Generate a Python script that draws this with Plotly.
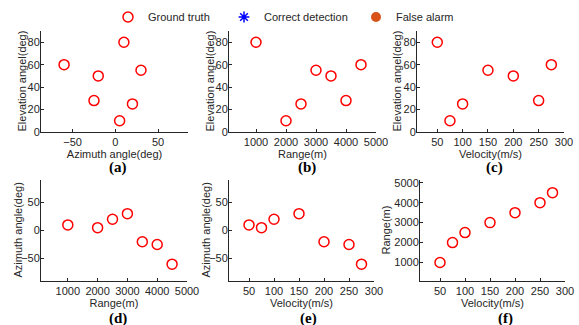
import plotly.graph_objects as go

# ---- data (7 targets) ----
azimuth = [10, 5, 20, 30, -20, -25, -60]          # deg
elevation = [80, 10, 25, 55, 50, 28, 60]          # deg
range_m = [1000, 2000, 2500, 3000, 3500, 4000, 4500]  # m
velocity = [50, 75, 100, 150, 200, 250, 275]      # m/s

panel_labels = ["(a)", "(b)", "(c)", "(d)", "(e)", "(f)"]
xy_titles = [
    ("Azimuth angle(deg)", "Elevation angel(deg)"),
    ("Range(m)", "Elevation angel(deg)"),
    ("Velocity(m/s)", "Elevation angel(deg)"),
    ("Range(m)", "Azimuth angle(deg)"),
    ("Velocity(m/s)", "Azimuth angle(deg)"),
    ("Velocity(m/s)", "Range(m)"),
]
xy_data = [
    (azimuth, elevation),
    (range_m, elevation),
    (velocity, elevation),
    (range_m, azimuth),
    (velocity, azimuth),
    (velocity, range_m),
]
x_ranges = [[-87, 85], [100, 5000], [10, 300], [100, 5000], [10, 300], [10, 300]]
y_ranges = [[0, 90], [0, 90], [0, 90], [-90, 90], [-90, 90], [75, 5135]]
x_ticks = [[-50, 0, 50], [1000, 2000, 3000, 4000, 5000], [50, 100, 150, 200, 250, 300],
           [1000, 2000, 3000, 4000, 5000], [50, 100, 150, 200, 250, 300], [50, 100, 150, 200, 250, 300]]
y_ticks = [[0, 20, 40, 60, 80], [0, 20, 40, 60, 80], [0, 20, 40, 60, 80],
           [-50, 0, 50], [-50, 0, 50], [1000, 2000, 3000, 4000, 5000]]

W, H = 579, 325
# axis boxes in pixels: (left, right, top, bottom)
boxes = [
    (41, 188, 31, 132), (229, 376, 31, 132), (417, 564, 31, 132),
    (41, 187, 180, 281), (229, 374, 180, 281), (420, 565, 180, 281),
]
label_pos = [(118, 167), (307, 167), (494, 167), (118, 318), (308, 318), (505, 318)]
ytitle_x = [22, 210, 397, 17, 205, 385]

AX = "#262626"
fig = go.Figure()
layout = dict(
    width=W, height=H, margin=dict(l=0, r=0, t=0, b=0),
    paper_bgcolor="white", plot_bgcolor="white",
    font=dict(family="Liberation Sans, Arial, sans-serif", size=11, color=AX),
    annotations=[],
)

for i in range(6):
    xs, ys = xy_data[i]
    xa = "x" if i == 0 else f"x{i+1}"
    ya = "y" if i == 0 else f"y{i+1}"
    fig.add_trace(go.Scatter(
        x=xs, y=ys, xaxis=xa, yaxis=ya, mode="markers",
        name="Ground truth", showlegend=(i == 0), legend="legend",
        marker=dict(symbol="circle-open", size=10, color="red", line=dict(width=1.5, color="red")),
    ))
    l, r, t, b = boxes[i]
    common = dict(showline=True, linecolor=AX, linewidth=1, ticks="inside", ticklen=3,
                  tickcolor=AX, showgrid=False, zeroline=False, mirror=False,
                  tickfont=dict(size=11, color=AX), automargin=False)
    layout["xaxis" if i == 0 else f"xaxis{i+1}"] = dict(
        domain=[l / W, r / W], anchor=ya, range=x_ranges[i], tickvals=x_ticks[i],
        title=dict(text=xy_titles[i][0], standoff=0, font=dict(size=11, color=AX)), **common)
    layout["yaxis" if i == 0 else f"yaxis{i+1}"] = dict(
        domain=[1 - b / H, 1 - t / H], anchor=xa, range=y_ranges[i], tickvals=y_ticks[i],
        ticklabelstandoff=-2, **common)
    # y-axis title
    layout["annotations"].append(dict(
        text=xy_titles[i][1], textangle=-90, x=ytitle_x[i] / W, y=1 - (t + b) / 2 / H,
        xref="paper", yref="paper", showarrow=False, xanchor="center", yanchor="middle",
        font=dict(size=11, color=AX)))
    lx, ly = label_pos[i]
    layout["annotations"].append(dict(
        text=f"<b>{panel_labels[i]}</b>", x=lx / W, y=1 - ly / H, xref="paper", yref="paper",
        showarrow=False, xanchor="center", yanchor="middle",
        font=dict(family="Liberation Serif, Times New Roman, serif", size=15, color="black")))

# legend-only traces
fig.add_trace(go.Scatter(x=[None], y=[None], mode="markers", name="Correct detection",
                         legend="legend2",
                         marker=dict(symbol="asterisk-open", size=9, color="blue",
                                     line=dict(width=1.5, color="blue"))))
fig.add_trace(go.Scatter(x=[None], y=[None], mode="markers", name="False alarm",
                         legend="legend3",
                         marker=dict(symbol="circle", size=10, color="#D95319")))

leg_common = dict(orientation="h", yanchor="middle", y=1 - 17 / H, xanchor="left",
                  bgcolor="rgba(0,0,0,0)", font=dict(size=11, color=AX), itemwidth=30)
layout["legend"] = dict(x=108 / W, **leg_common)
layout["legend2"] = dict(x=224 / W, **leg_common)
layout["legend3"] = dict(x=356 / W, **leg_common)

fig.update_layout(**layout)
fig.write_html("out.html", config={"displayModeBar": False},
               post_script="document.body.style.margin='0';")
